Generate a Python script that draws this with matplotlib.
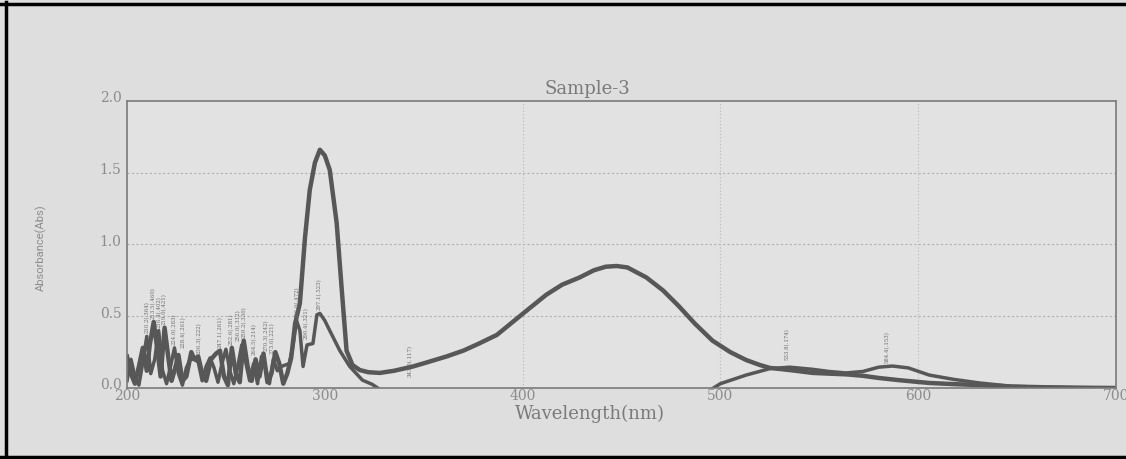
import numpy as np
import matplotlib.pyplot as plt
from matplotlib.lines import Line2D
from matplotlib.transforms import ScaledTranslation

# spectrum 1 (strong peak ~297 nm + broad band ~447 nm)
wl_a = [200, 202, 204, 206, 208, 210, 211.5, 213.5, 215.5, 217, 219, 221, 222.5, 224,
        226, 228, 230, 232.5, 234, 236, 238, 240, 242.5, 245, 247, 249, 251, 253, 255,
        257, 259, 261, 263, 265, 267, 269, 271, 273, 275, 277, 279, 281, 283, 285,
        287.4, 290, 292.4, 295, 297.5, 300, 302.5, 306, 308.6, 311, 314, 317.7, 322,
        327.8, 335, 344.6, 352, 361.6, 370, 378, 387, 395, 403, 412, 420, 428.8, 436,
        442, 447.5, 453, 462.6, 471, 479, 487, 496, 505, 513, 520, 525, 535, 546.7,
        555, 563.6, 572, 580, 590, 605.6, 618, 631, 647.5, 665, 680, 700]
abs_a = [0.22, 0.10, 0.03, 0.15, 0.28, 0.12, 0.30, 0.46, 0.25, 0.08, 0.42, 0.20, 0.05, 0.12,
         0.23, 0.05, 0.08, 0.25, 0.20, 0.22, 0.10, 0.05, 0.20, 0.24, 0.26, 0.08, 0.02, 0.28, 0.10,
         0.04, 0.33, 0.15, 0.05, 0.20, 0.08, 0.24, 0.04, 0.10, 0.25, 0.17, 0.03, 0.10, 0.21, 0.45,
         0.59, 1.05, 1.38, 1.57, 1.66, 1.62, 1.52, 1.15, 0.68, 0.26, 0.16, 0.125, 0.11,
         0.105, 0.12, 0.15, 0.18, 0.22, 0.26, 0.31, 0.37, 0.46, 0.55, 0.65, 0.72, 0.77, 0.82,
         0.845, 0.85, 0.84, 0.77, 0.68, 0.57, 0.45, 0.33, 0.25, 0.195, 0.16, 0.14, 0.125, 0.105,
         0.10, 0.095, 0.085, 0.07, 0.055, 0.035, 0.027, 0.02, 0.01, 0.005, 0.002, 0.0]

# spectrum 2 (small peak ~297 nm + bands 535 / 584 nm)
wl_b = [200, 202, 204, 206, 208, 210, 212, 214, 216, 218, 220, 222, 224, 226, 228, 230,
        232, 234, 236, 238, 240, 242, 244, 246, 248, 250, 252, 254, 256, 258, 260, 262,
        264, 266, 268, 270, 272, 274, 276, 278, 280, 282, 284, 285.7, 287.4, 289, 291,
        294, 296, 297.5, 300, 302.5, 307.6, 312.6, 319, 324, 330, 400, 493, 500, 513,
        525, 535, 546.7, 555, 563.6, 572, 580, 587, 595, 605.6, 618, 631, 647.5, 665, 700]
abs_b = [0.05, 0.20, 0.08, 0.02, 0.18, 0.36, 0.10, 0.20, 0.40, 0.12, 0.03, 0.15, 0.28, 0.10,
         0.02, 0.14, 0.20, 0.20, 0.18, 0.05, 0.15, 0.21, 0.14, 0.04, 0.17, 0.27, 0.12, 0.03,
         0.15, 0.30, 0.18, 0.05, 0.17, 0.03, 0.22, 0.14, 0.03, 0.20, 0.12, 0.15, 0.16, 0.17,
         0.30, 0.47, 0.40, 0.15, 0.30, 0.31, 0.51, 0.52, 0.47, 0.40, 0.26, 0.15, 0.055, 0.025,
         -0.03, -0.03, -0.03, 0.03, 0.09, 0.135, 0.145, 0.13, 0.115, 0.105, 0.115, 0.145,
         0.153, 0.14, 0.09, 0.06, 0.035, 0.012, 0.005, 0.0]

# peak pick labels
peak_wl = [210.2, 213.5, 216.4, 219.0, 224.0, 228.4, 236.3, 247.1, 252.6, 256.0, 259.2,
           264.5, 270.3, 273.6, 286.0, 290.4, 297.1, 343.0, 533.8, 584.4]
peak_abs = [0.36, 0.46, 0.40, 0.42, 0.28, 0.26, 0.22, 0.26, 0.28, 0.31, 0.33,
            0.21, 0.24, 0.22, 0.47, 0.32, 0.52, 0.06, 0.174, 0.153]
peak_txt = ['210.2(.364)', '213.5(.460)', '216.4(.402)', '219.0(.421)', '224.0(.283)',
            '228.4(.261)', '236.3(.222)', '247.1(.261)', '252.6(.281)', '256.0(.312)',
            '259.2(.330)', '264.5(.214)', '270.3(.242)', '273.6(.221)', '286.0(.472)',
            '290.4(.321)', '297.1(.523)', '343.0(.117)', '533.8(.174)', '584.4(.153)']

xticks = [200, 300, 400, 500, 600, 700]
yticks = [0.0, 0.5, 1.0, 1.5, 2.0]

bg = '#dedede'
ink = '#575757'
txt = '#8c8c8c'

fig = plt.figure(figsize=(11.26, 4.59), dpi=100, facecolor=bg)
ax = fig.add_axes([0.1128, 0.1547, 0.8783, 0.6253], facecolor='#e2e2e2')

ax.plot(wl_a, abs_a, color=ink, lw=3.2, solid_joinstyle='round')
ax.plot(wl_b, abs_b, color=ink, lw=2.5, solid_joinstyle='round')

for w, a, t in zip(peak_wl, peak_abs, peak_txt):
    ax.text(w, a + 0.02, t, rotation=90, ha='center', va='bottom',
            fontsize=3.9, color='#6a6a6a', family='DejaVu Serif')

ax.set_xlim(200, 700)
ax.set_ylim(0, 2.0)
ax.set_xticks(xticks)
ax.set_yticks(yticks)
ax.set_xticklabels([str(v) for v in xticks], family='DejaVu Serif', fontsize=10, color=txt)
ax.set_yticklabels(['%.1f' % v for v in yticks], family='DejaVu Serif', fontsize=10, color=txt)
ax.tick_params(axis='x', length=0, pad=1)
ax.tick_params(axis='y', length=0, pad=4)
# y labels sit a touch above their gridlines in the scan
up = ScaledTranslation(0, 3 / 72, fig.dpi_scale_trans)
for lab in ax.get_yticklabels():
    lab.set_transform(lab.get_transform() + up)

for y in [0.5, 1.0, 1.5]:
    ax.axhline(y, color='#b0b0b0', lw=0.8, ls=(0, (2, 2)), zorder=0)
for x in [400, 500, 600]:
    ax.axvline(x, color='#b8b8b8', lw=0.8, ls=(0, (1, 2)), zorder=0)

for s in ax.spines.values():
    s.set_color('#7a7a7a')
    s.set_linewidth(1.2)

ax.text(0.465, 1.012, 'Sample-3', transform=ax.transAxes, ha='center', va='bottom',
        family='DejaVu Serif', fontsize=13, color='#7a7a7a')
ax.text(0.468, -0.058, 'Wavelength(nm)', transform=ax.transAxes, ha='center', va='top',
        family='DejaVu Serif', fontsize=13, color='#7a7a7a')
ax.set_ylabel('Absorbance(Abs)', family=['Roboto', 'DejaVu Sans'],
              fontsize=8, color='#8c8c8c')
ax.yaxis.set_label_coords(-0.081, 0.49)

# scan border
fig.add_artist(Line2D([0.005, 0.005], [0.0, 0.995], transform=fig.transFigure, color='black', lw=2.5))
fig.add_artist(Line2D([0.0, 1.0], [0.992, 0.992], transform=fig.transFigure, color='black', lw=2.5))
fig.add_artist(Line2D([0.0, 1.0], [0.004, 0.004], transform=fig.transFigure, color='black', lw=2.5))

fig.savefig('out.png', dpi=100, facecolor=bg)
